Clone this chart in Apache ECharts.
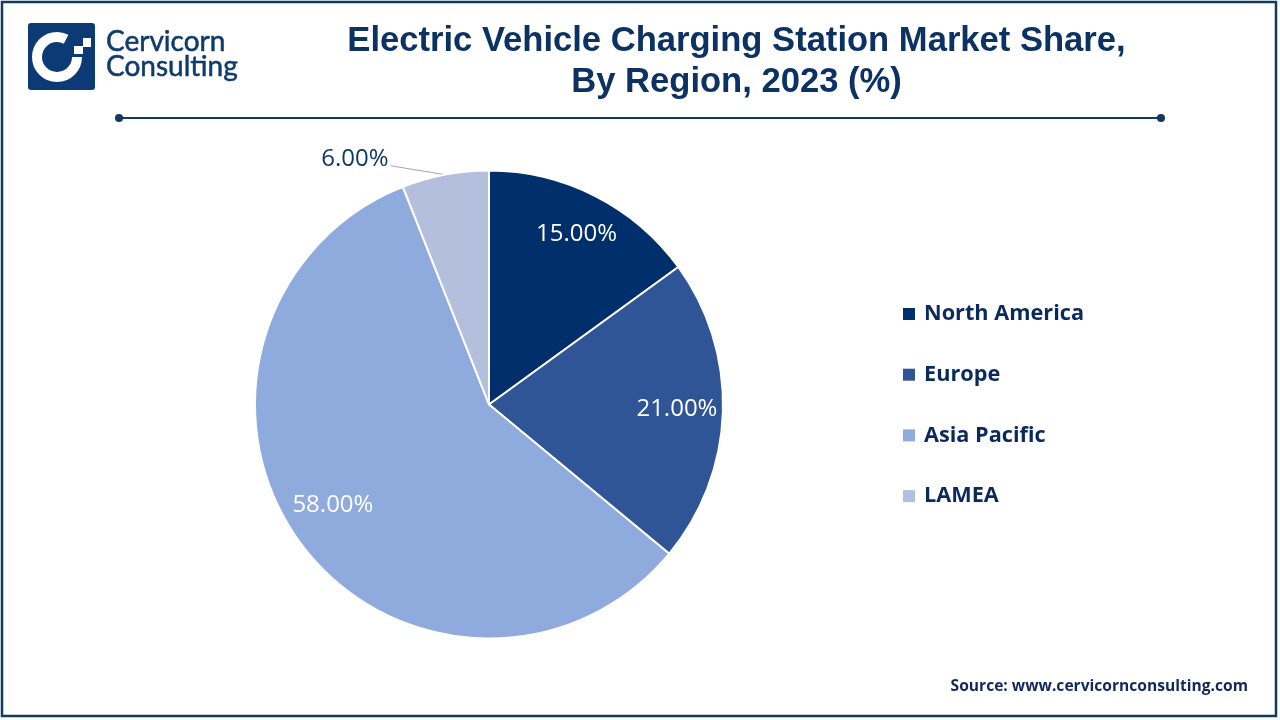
<!DOCTYPE html>
<html><head><meta charset="utf-8">
<style>html,body{margin:0;padding:0;background:#fff}#c{width:1280px;height:720px}</style>
<script src="https://cdn.jsdelivr.net/npm/echarts@6/dist/echarts.min.js"></script>
</head><body><div id="c"></div>
<script>
const regions = ['North America','Europe','Asia Pacific','LAMEA'];
const shares = [15, 21, 58, 6];
const colors = ['#002F6B','#2F5597','#8FAADC','#B4BFDE'];
const chartTitle = 'Electric Vehicle Charging Station Market Share,\nBy Region, 2023 (%)';
const sourceText = 'Source: www.cervicornconsulting.com';
const chart = echarts.init(document.getElementById('c'), null, {renderer:'canvas'});
const labelShift = [[33,-63],[68,1],[-59,30],[-11,-8]];
chart.setOption({
  animation:false,
  backgroundColor:'#fff',
  title:{text:chartTitle,left:731.5,top:15.5,textAlign:'center',
    textStyle:{fontFamily:'Liberation Sans',fontWeight:'bold',fontSize:34.6,lineHeight:41,color:'#0B3263'}},
  legend:{orient:'vertical',left:898,top:296.5,itemWidth:12,itemHeight:12,itemGap:35.7,icon:'rect',
    data:regions,selectedMode:false,itemStyle:{borderWidth:0},
    textStyle:{fontFamily:'Open Sans',fontWeight:'bold',fontSize:21.7,lineHeight:25,color:'#0A2A5E',padding:[0,0,0,4]}},
  series:[{
    type:'pie',center:[489,404.5],radius:234,startAngle:90,clockwise:true,
    color:colors,
    itemStyle:{borderColor:'#fff',borderWidth:2},
    label:{position:'inside',formatter:p=>p.value.toFixed(2)+'%',fontFamily:'Open Sans',fontSize:24,color:'#fff'},
    labelLine:{show:false},
    labelLayout:function(p){
      const s=labelShift[p.dataIndex];
      const out={dx:s[0],dy:s[1]};
      if(p.labelLinePoints){
        const a=p.labelLinePoints[0], r=p.labelRect;
        const b=[r.x+r.width+s[0]+2, r.y+r.height/2+s[1]+7];
        out.labelLinePoints=[a,[(a[0]+b[0])/2,(a[1]+b[1])/2],b];
      }
      return out;
    },
    data:regions.map((n,i)=>({name:n,value:shares[i],
      label:i===3?{position:'outside',color:'#0F3864',fontFamily:'Open Sans',fontSize:24,distanceToLabelLine:2}:undefined,
      labelLine:i===3?{show:true,length:8,length2:42,lineStyle:{color:'#A6A6A6',width:1}}:undefined}))
  }],
  graphic:[
    {type:'rect',shape:{x:2,y:2,width:1274,height:714},style:{fill:'none',stroke:'#123A5C',lineWidth:2.5}},
    {type:'rect',shape:{x:28,y:23,width:67,height:67,r:3},style:{fill:'#0B3A75'}},
    {type:'arc',shape:{cx:57,cy:57,r:20,startAngle:0,endAngle:-Math.PI*0.35,clockwise:true},style:{fill:'none',stroke:'#fff',lineWidth:10}},
    {type:'rect',shape:{x:74,y:46,width:9,height:8},style:{fill:'#fff'}},
    {type:'rect',shape:{x:83,y:38,width:8,height:9},style:{fill:'#fff'}},
    {type:'text',style:{x:106,y:28,text:'Cervicorn',fontFamily:'Lato',fontSize:28,fill:'#0F3A6E',stroke:'#0F3A6E',lineWidth:0.5}},
    {type:'text',style:{x:106,y:53,text:'Consulting',fontFamily:'Lato',fontSize:28,fill:'#0F3A6E',stroke:'#0F3A6E',lineWidth:0.5}},
    {type:'line',shape:{x1:119,y1:118,x2:1161,y2:118},style:{stroke:'#0F3864',lineWidth:2}},
    {type:'circle',shape:{cx:119,cy:118,r:4},style:{fill:'#0F3864'}},
    {type:'circle',shape:{cx:1161,cy:118,r:4},style:{fill:'#0F3864'}},
    {type:'text',style:{x:1248,y:679,text:sourceText,align:'right',fontFamily:'Open Sans',fontWeight:'bold',fontSize:15.6,fill:'#12285A'}}
  ]
});
</script></body></html>
